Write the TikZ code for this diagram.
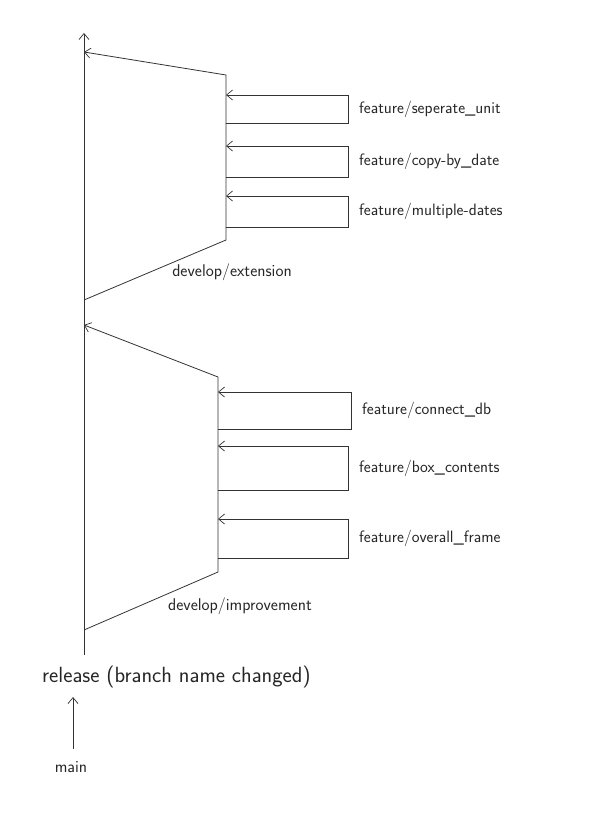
\documentclass[tikz,border=0pt]{standalone}
\usepackage{tikz}
\usetikzlibrary{arrows.meta}
\usetikzlibrary{calc}
\tikzset{
	branch/.style={draw=black!80,line width=0.8pt},
	tip/.style={-{Straight Barb[length=6pt,width=10pt,line width=0.7pt]}},
	flabel/.style={font=\sffamily\fontsize{16.5}{18}\selectfont,text=black!85,inner sep=0pt,anchor=west},
}
% #1 name, #2 branch x, #3 right x, #4 top y, #5 bottom y, #6 text
\newcommand{\featurebox}[6]{
	\coordinate (#1-in) at (#2,#4);
	\coordinate (#1-ne) at (#3,#4);
	\coordinate (#1-sw) at (#2,#5);
	\draw[branch,tip] (#1-sw) -| (#1-ne) -- (#1-in);
	\node[flabel] (#1) at (#3+11,{(#4+#5)/2}) {#6};
}
\begin{document}
\begin{tikzpicture}[x=1pt,y=-1pt]
	\useasboundingbox (0,0) rectangle (592,840);
	% release line
	\coordinate (relbot) at (84,655);
	\coordinate (reltop) at (84,33);
	\draw[branch,tip] (relbot) -- (reltop);
	% develop/extension
	\coordinate (ext0) at (84,300);
	\coordinate (ext1) at (226,240);
	\coordinate (ext2) at (226,75);
	\coordinate (ext3) at (84,52);
	\draw[branch,tip] (ext0) -- (ext1) -- (ext2) -- (ext3);
	\featurebox{sep}{226}{348}{95}{123}{feature/seperate\_unit}
	\featurebox{copy}{226}{348}{146}{177}{feature/copy-by\_date}
	\featurebox{mult}{226}{348}{196}{227}{feature/multiple-dates}
	\node[flabel,anchor=center,font=\sffamily\fontsize{17}{19}\selectfont] (ext) at (232,272) {develop/extension};
	% develop/improvement
	\coordinate (imp0) at (84,630);
	\coordinate (imp1) at (218,572);
	\coordinate (imp2) at (218,377);
	\coordinate (imp3) at (84,325);
	\draw[branch,tip] (imp0) -- (imp1) -- (imp2) -- (imp3);
	\featurebox{db}{218}{351}{392}{429}{feature/connect\_db}
	\featurebox{boxc}{218}{348}{446}{490}{feature/box\_contents}
	\featurebox{frame}{218}{348}{519}{558}{feature/overall\_frame}
	\node[flabel,anchor=center,font=\sffamily\fontsize{17}{19}\selectfont] (imp) at (240,606) {develop/improvement};
	% release / main
	\node[flabel,font=\sffamily\fontsize{22}{24}\selectfont] (rel) at (42,677) {release (branch name changed)};
	\node[flabel,anchor=center,font=\sffamily\fontsize{17}{19}\selectfont] (main) at (71,767) {main};
	\coordinate (mainup) at (73,697);
	\draw[branch,tip] (main.north -| mainup) ++(0,-12) -- (mainup);
\end{tikzpicture}
\end{document}
